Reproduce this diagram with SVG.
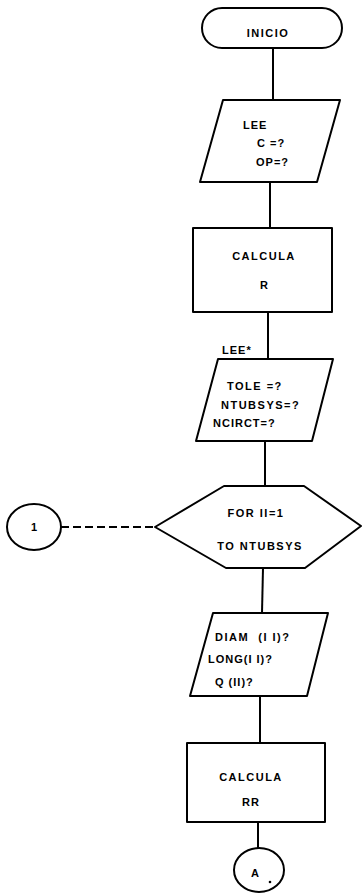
<svg xmlns="http://www.w3.org/2000/svg" width="362" height="893" viewBox="0 0 362 893">
<style>
.s{fill:#fff;stroke:#000;stroke-width:2;stroke-linejoin:round}
.c{stroke:#000;stroke-width:2;fill:none}
.d{stroke:#000;stroke-width:2;fill:none;stroke-dasharray:8 4}
text{font-family:"Liberation Sans",Arial,sans-serif;font-weight:bold;font-size:11px;fill:#000}
.m{text-anchor:middle}
</style>
<rect width="362" height="893" fill="#fff"/>
<g id="connectors">
<line class="c" x1="273" y1="48" x2="273" y2="100"/>
<line class="c" x1="270" y1="182" x2="270" y2="228"/>
<line class="c" x1="268" y1="312" x2="268" y2="359"/>
<line class="c" x1="265" y1="441" x2="265" y2="486"/>
<line class="c" x1="263" y1="568" x2="262" y2="613"/>
<line class="c" x1="260" y1="696" x2="260" y2="743"/>
<line class="c" x1="258" y1="822" x2="258" y2="848"/>
<line class="d" x1="61" y1="527" x2="155" y2="527"/>
</g>
<g id="inicio">
<rect class="s" x="202" y="8" width="140" height="40" rx="20" ry="20"/>
<text class="m" x="268" y="37" letter-spacing="1.5">INICIO</text>
</g>
<g id="lee1">
<polygon class="s" points="223,100 340,100 317,182 200,182"/>
<text x="243" y="129" letter-spacing="1">LEE</text>
<text x="257" y="147" letter-spacing="1">C =?</text>
<text x="256" y="166" letter-spacing="1">OP=?</text>
</g>
<g id="calcula1">
<rect class="s" x="193" y="228" width="139" height="84"/>
<text class="m" x="264" y="260" letter-spacing="1.5">CALCULA</text>
<text class="m" x="264" y="289">R</text>
</g>
<g id="lee2">
<text x="222" y="354" letter-spacing="1">LEE*</text>
<polygon class="s" points="218,359 333,359 312,441 196,441"/>
<text x="227" y="390" letter-spacing="1.5">TOLE =?</text>
<text x="221" y="409" letter-spacing="1.5">NTUBSYS=?</text>
<text x="213" y="427" letter-spacing="1">NCIRCT=?</text>
</g>
<g id="for">
<polygon class="s" points="155,527 224,486 304,486 361,526 305,568 226,568"/>
<text class="m" x="256" y="517" letter-spacing="1.5">FOR II=1</text>
<text class="m" x="260" y="550" letter-spacing="1.5">TO NTUBSYS</text>
</g>
<g id="conn1">
<ellipse class="s" cx="34" cy="527" rx="27" ry="23"/>
<text class="m" x="34" y="531">1</text>
</g>
<g id="lee3">
<polygon class="s" points="213,613 328,613 307,696 190,696"/>
<text x="215" y="641" letter-spacing="1.5" xml:space="preserve">DIAM  (I I)?</text>
<text x="208" y="663" letter-spacing="1">LONG(I I)?</text>
<text x="215" y="686" letter-spacing="1">Q (II)?</text>
</g>
<g id="calcula2">
<rect class="s" x="187" y="743" width="138" height="79"/>
<text class="m" x="251" y="781" letter-spacing="1.5">CALCULA</text>
<text class="m" x="251" y="806" letter-spacing="1">RR</text>
</g>
<g id="connA">
<ellipse class="s" cx="259" cy="870" rx="25" ry="22"/>
<text class="m" x="255" y="877">A</text>
<circle cx="270" cy="882" r="1.3" fill="#000"/>
</g>
</svg>
